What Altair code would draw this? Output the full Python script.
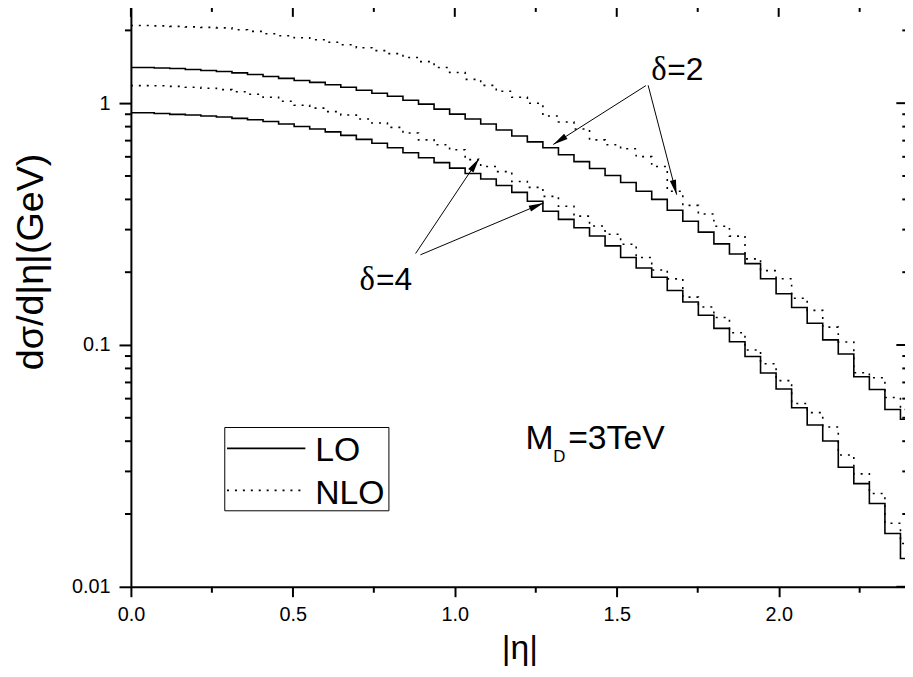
import math
import altair as alt
import pandas as pd

# ---------------- data ----------------
eta = [round(0.048 * i, 3) for i in range(51)]  # histogram bin positions in |eta|

LO_d2 = [1.404, 1.404, 1.398, 1.391, 1.378, 1.365, 1.352, 1.334, 1.315, 1.290,
         1.266, 1.242, 1.219, 1.191, 1.163, 1.131, 1.099, 1.068, 1.029, 0.991,
         0.945, 0.901, 0.860, 0.820, 0.775, 0.732, 0.692, 0.654, 0.612, 0.573,
         0.537, 0.502, 0.470, 0.432, 0.400, 0.361, 0.325, 0.293, 0.262, 0.238,
         0.217, 0.188, 0.163, 0.143, 0.123, 0.105, 0.0918, 0.0739, 0.0654, 0.0541,
         0.0493]
NLO_d2 = [2.094, 2.094, 2.088, 2.078, 2.068, 2.058, 2.049, 2.011, 1.982, 1.936,
          1.900, 1.864, 1.829, 1.787, 1.745, 1.696, 1.649, 1.603, 1.544, 1.486,
          1.404, 1.340, 1.254, 1.185, 1.120, 1.058, 1.000, 0.885, 0.836, 0.782,
          0.705, 0.673, 0.648, 0.601, 0.547, 0.432, 0.378, 0.348, 0.310, 0.282,
          0.227, 0.203, 0.188, 0.156, 0.139, 0.1185, 0.1029, 0.0768, 0.0732, 0.0606,
          0.0541]
LO_d4 = [0.9125, 0.9125, 0.9057, 0.8989, 0.8930, 0.8846, 0.8762, 0.8655, 0.8542, 0.8398,
         0.8202, 0.8011, 0.7824, 0.7606, 0.7358, 0.7086, 0.6823, 0.6540, 0.6238, 0.5951,
         0.5677, 0.5389, 0.5117, 0.4858, 0.4569, 0.4277, 0.3929, 0.3575, 0.3306, 0.3054,
         0.2824, 0.2569, 0.2301, 0.2082, 0.1905, 0.1680, 0.1505, 0.1327, 0.1171, 0.1032,
         0.0896, 0.0766, 0.0658, 0.0550, 0.0467, 0.0401, 0.0312, 0.0267, 0.0221, 0.0166,
         0.0131]
NLO_d4 = [1.182, 1.182, 1.180, 1.174, 1.163, 1.152, 1.138, 1.115, 1.089, 1.058,
          1.019, 0.981, 0.954, 0.923, 0.893, 0.860, 0.828, 0.794, 0.753, 0.705,
          0.673, 0.642, 0.584, 0.547, 0.521, 0.4745, 0.4484, 0.4118, 0.3748, 0.3410,
          0.3103, 0.2869, 0.2611, 0.2301, 0.2043, 0.1877, 0.1577, 0.1435, 0.1299, 0.1123,
          0.0954, 0.0836, 0.0712, 0.0573, 0.0525, 0.0458, 0.0351, 0.0293, 0.0243, 0.0183,
          0.0151]

x_major = [0.0, 0.5, 1.0, 1.5, 2.0]
x_minor = [0.25, 0.75, 1.25, 1.75, 2.25]
y_major = [0.01, 0.1, 1]
y_minor = [0.02, 0.03, 0.04, 0.05, 0.06, 0.07, 0.08, 0.09,
           0.2, 0.3, 0.4, 0.5, 0.6, 0.7, 0.8, 0.9, 2]

# annotation texts (x in |eta|, y in GeV); Greek delta drawn in a serif face
greek_text = ["δ", "δ"]
greek_x = [1.6066, 0.706]
greek_y = [1.251, 0.1691]
ann_text = ["=2", "=4", "M", "D", "=3TeV"]
ann_x = [1.6556, 0.7568, 1.218, 1.304, 1.350]
ann_y = [1.251, 0.1691, 0.03713, 0.03275, 0.03713]
ann_size = [32, 32, 34, 17, 34]

# arrows: start -> tip
arr_x1 = [1.590, 1.597, 0.879, 0.894]
arr_y1 = [1.182, 1.185, 0.2389, 0.236]
arr_x2 = [1.304, 1.685, 1.075, 1.274]
arr_y2 = [0.675, 0.4184, 0.591, 0.3867]

# legend (boxed key inside the plot)
leg_labels = ["LO", "NLO"]
leg_box_x = [0.2898, 0.7966]
leg_box_y = [0.04557, 0.02062]
leg_line_x = [0.2968, 0.5386]
leg_line_y = [0.03737, 0.02505]
leg_text_x = 0.5692
leg_text_y = [0.03315, 0.02210]

# ---------------- layout ----------------
W, H = 781, 585
X_DOM = [0.0, 2.39]
Y_DOM = [0.01, 2.5]
FONT = "Liberation Sans"
SERIF = "Liberation Serif"

xs = alt.Scale(domain=X_DOM, nice=False, zero=False)
ys = alt.Scale(type="log", domain=Y_DOM, nice=False)
dash_scale = alt.Scale(domain=["LO", "NLO"], range=[[1, 0], [2, 6]])

X_AXIS = alt.Axis(
    values=x_major, format=".1f", title="|η|", grid=False,
    tickSize=10, tickWidth=2, tickColor="black", domainWidth=2, domainColor="black",
    labelFont=FONT, labelFontSize=20, labelColor="black", labelPadding=8, labelFlush=False,
    titleFont=FONT, titleFontSize=34, titleFontWeight="normal", titleColor="black",
    titleX=392, titleY=72, titleAlign="center", titleBaseline="alphabetic")
Y_AXIS = alt.Axis(
    values=y_major, format="~g", title="dσ/d|η|(GeV)", grid=False,
    tickSize=12, tickWidth=2, tickColor="black", domainWidth=2, domainColor="black",
    labelFont=FONT, labelFontSize=20, labelColor="black", labelPadding=9,
    titleFont=FONT, titleFontSize=38, titleFontWeight="normal", titleColor="black",
    titleX=-89, titleY=366, titleAngle=270, titleAlign="left", titleBaseline="alphabetic")


def X(field):
    return alt.X(field, scale=xs, axis=X_AXIS)


def Y(field):
    return alt.Y(field, scale=ys, axis=Y_AXIS)


def XD(v):
    return alt.XDatum(v, scale=xs, axis=X_AXIS)


def YD(v):
    return alt.YDatum(v, scale=ys, axis=Y_AXIS)


rows = []
for order, delta, vals in [("LO", "2", LO_d2), ("NLO", "2", NLO_d2),
                           ("LO", "4", LO_d4), ("NLO", "4", NLO_d4)]:
    for e, v in zip(eta, vals):
        rows.append({"eta": e, "val": v, "order": order, "curve": order + delta})
df = pd.DataFrame(rows)

curves = alt.Chart(df).mark_line(interpolate="step", color="black", strokeWidth=1.6).encode(
    x=X("eta:Q"),
    y=Y("val:Q"),
    strokeDash=alt.StrokeDash("order:N", scale=dash_scale, legend=None),
    detail="curve:N",
)


# minor / mirrored tick marks
def tick_layer(vals, orient, length):
    base = alt.Chart(pd.DataFrame({"t": vals}))
    if orient in ("bottom", "top"):
        yv = Y_DOM[0] if orient == "bottom" else Y_DOM[1]
        return base.mark_rule(color="black", strokeWidth=2, y2Offset=length).encode(
            x=X("t:Q"), y=YD(yv), y2=alt.datum(yv))
    xv = X_DOM[0] if orient == "left" else 2.4
    return base.mark_rule(color="black", strokeWidth=2, x2Offset=-length).encode(
        y=Y("t:Q"), x=XD(xv), x2=alt.datum(xv))


ticks = [
    tick_layer(x_minor, "bottom", 6),
    tick_layer(x_major, "top", 10),
    tick_layer(x_minor, "top", 5),
    tick_layer(y_minor, "left", 6),
    tick_layer(y_major, "right", 12),
    tick_layer(y_minor, "right", 6),
]

top_border = alt.Chart(pd.DataFrame({"a": [0]})).mark_rule(color="black", strokeWidth=2).encode(
    y=YD(Y_DOM[1]))

# legend key
leg_box = alt.Chart(pd.DataFrame({"a": [0]})).mark_rect(
    fill="white", stroke="black", strokeWidth=1).encode(
    x=XD(leg_box_x[0]), x2=alt.datum(leg_box_x[1]),
    y=YD(leg_box_y[0]), y2=alt.datum(leg_box_y[1]))
leg_df = pd.DataFrame({"order": leg_labels, "y": leg_line_y, "ty": leg_text_y,
                       "x1": [leg_line_x[0]] * 2, "x2": [leg_line_x[1]] * 2,
                       "tx": [leg_text_x] * 2})
leg_lines = alt.Chart(leg_df).mark_rule(color="black", strokeWidth=1.6).encode(
    x=X("x1:Q"), x2="x2:Q", y=Y("y:Q"),
    strokeDash=alt.StrokeDash("order:N", scale=dash_scale, legend=None))
leg_text = alt.Chart(leg_df).mark_text(
    align="left", baseline="alphabetic", font=FONT, fontSize=34, color="black").encode(
    x=X("tx:Q"), y=Y("ty:Q"), text="order:N")

# annotations
ann_df = pd.DataFrame({"text": ann_text, "x": ann_x, "y": ann_y, "fs": ann_size})
ann = alt.Chart(ann_df).mark_text(align="left", baseline="alphabetic", font=FONT, color="black").encode(
    x=X("x:Q"), y=Y("y:Q"), text="text:N",
    size=alt.Size("fs:Q", scale=None, legend=None),
)
greek_df = pd.DataFrame({"text": greek_text, "x": greek_x, "y": greek_y})
greek = alt.Chart(greek_df).mark_text(
    align="left", baseline="alphabetic", font=SERIF, fontSize=33, color="black").encode(
    x=X("x:Q"), y=Y("y:Q"), text="text:N")


def px(x):
    return W * (x - X_DOM[0]) / (X_DOM[1] - X_DOM[0])


def py(y):
    return H * (math.log10(Y_DOM[1]) - math.log10(y)) / (math.log10(Y_DOM[1]) - math.log10(Y_DOM[0]))


angles = []
for a, b, c, d in zip(arr_x1, arr_y1, arr_x2, arr_y2):
    angles.append(math.degrees(math.atan2(px(c) - px(a), -(py(d) - py(b)))) % 360)

arr_df = pd.DataFrame({"x1": arr_x1, "y1": arr_y1, "x2": arr_x2, "y2": arr_y2, "ang": angles})
arr_lines = alt.Chart(arr_df).mark_rule(color="black", strokeWidth=1).encode(
    x=X("x1:Q"), y=Y("y1:Q"), x2="x2:Q", y2="y2:Q")
arr_heads = alt.Chart(arr_df).mark_point(
    shape="M0,0L-0.42,2L0.42,2Z", filled=True, size=225, color="black", opacity=1, strokeWidth=0
).encode(
    x=X("x2:Q"), y=Y("y2:Q"),
    angle=alt.Angle("ang:Q", scale=None))

chart = alt.layer(curves, *ticks, top_border, leg_box, leg_lines, leg_text,
                  arr_lines, arr_heads, ann, greek).properties(
    width=W, height=H,
    autosize=alt.AutoSizeParams(type="none"),
    padding={"left": 124, "top": -4, "right": 0, "bottom": 80},
    background="white",
).configure_view(stroke=None)

chart.save("out.html", embed_options={"renderer": "svg", "actions": False})
